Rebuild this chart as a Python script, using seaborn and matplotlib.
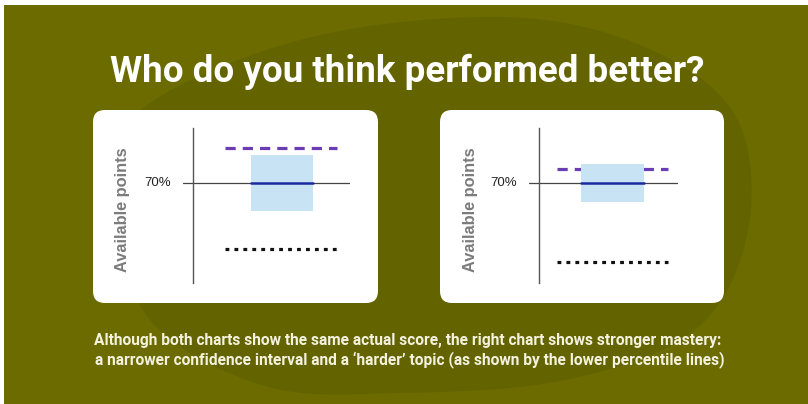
import numpy as np
import pandas as pd
import matplotlib
matplotlib.use("Agg")
import matplotlib.pyplot as plt
import seaborn as sns
from matplotlib.patches import FancyBboxPatch, Rectangle, Polygon

# ---------------- data ----------------
panels = ["left", "right"]
actual_score = [70, 70]          # % of available points
ci_low = [56, 60.5]
ci_high = [84, 79.5]
upper_percentile = [87.5, 77]
lower_percentile = [37, 30.5]
score_label = "70%"
y_label = "Available points"
title = "Who do you think performed better?"
caption = ["Although both charts show the same actual score, the right chart shows stronger mastery:",
           "a narrower confidence interval and a \u2018harder\u2019 topic (as shown by the lower percentile lines)"]

# ---------------- style ----------------
sns.set_theme(style="white")
plt.rcParams["font.family"] = ["Liberation Sans", "DejaVu Sans"]
W, H = 808, 404
fig = plt.figure(figsize=(W / 100, H / 100), dpi=100)
fig.patch.set_facecolor("white")

def fx(px):
    return px / W

def fy(py):
    return 1 - py / H

BG = "#6b6b00"
BLOB = "#636400"

# background axes in pixel coordinates
bg = fig.add_axes([0, 0, 1, 1], zorder=-5)
bg.set_xlim(0, W)
bg.set_ylim(H, 0)
bg.axis("off")
bg.add_patch(Rectangle((4, 5), W - 4, H - 5, facecolor=BG, edgecolor="none", zorder=0))

ctrl = np.array([(500, 17), (640, 45), (735, 115), (748, 230), (695, 330), (565, 380),
                 (400, 393), (265, 386), (150, 320), (118, 210), (135, 115), (300, 40)], float)
n = len(ctrl)
pts = []
for i in range(n):
    p0, p1, p2, p3 = ctrl[(i - 1) % n], ctrl[i], ctrl[(i + 1) % n], ctrl[(i + 2) % n]
    for t in np.linspace(0, 1, 20, endpoint=False):
        t2, t3 = t * t, t * t * t
        pts.append(0.5 * ((2 * p1) + (-p0 + p2) * t + (2 * p0 - 5 * p1 + 4 * p2 - p3) * t2
                          + (-p0 + 3 * p1 - 3 * p2 + p3) * t3))
bg.add_patch(Polygon(np.array(pts), closed=True, facecolor=BLOB, edgecolor="none", zorder=1))

cards = [(93, 110, 378, 303), (440, 110, 724, 303)]
for (x0, y0, x1, y1) in cards:
    r = 12
    bg.add_patch(FancyBboxPatch((x0 + r, y0 + r), x1 - x0 - 2 * r, y1 - y0 - 2 * r,
                                boxstyle=f"round,pad={r}", facecolor="white",
                                edgecolor="none", zorder=2))

# layout per panel (pixels)
layout = [
    dict(ax=(183, 128, 350, 283), vaxis=193, box=(251, 313), lines=(225, 337), lab_r=171, ylab_x=123),
    dict(ax=(529, 128, 678, 283), vaxis=539, box=(581, 644), lines=(557, 668), lab_r=517, ylab_x=470),
]
YLIM = (20, 97.5)
BOX_C = "#c8e4f4"
MED_C = "#1a2a9e"
PURPLE = "#6a3db5"

for i, L in enumerate(layout):
    x0, y0, x1, y1 = L["ax"]
    ax = fig.add_axes([fx(x0), fy(y1), fx(x1 - x0), (y1 - y0) / H], zorder=2)
    ax.set_facecolor("none")
    ax.set_xlim(x0, x1)
    ax.set_ylim(*YLIM)
    for s in ["top", "right", "bottom"]:
        ax.spines[s].set_visible(False)
    ax.spines["left"].set_position(("data", L["vaxis"]))
    ax.spines["left"].set_color("#555555")
    ax.spines["left"].set_linewidth(1.0)
    ax.set_xticks([])
    ax.set_yticks([])
    ax.axhline(actual_score[i], color="#444444", lw=0.9, zorder=2)

    bx0, bx1 = L["box"]
    ax.bar((bx0 + bx1) / 2, ci_high[i] - ci_low[i], bottom=ci_low[i], width=bx1 - bx0,
           color=BOX_C, edgecolor="none", zorder=3)
    lx0, lx1 = L["lines"]
    sns.lineplot(x=[lx0, lx1], y=[upper_percentile[i]] * 2, ax=ax, color=PURPLE, lw=2.3,
                 linestyle=(0, (3.2, 2.2)), zorder=2.5)
    sns.lineplot(x=[lx0, lx1], y=[lower_percentile[i]] * 2, ax=ax, color="#111111", lw=2.3,
                 linestyle=(0, (1.2, 1.6)), zorder=2.5)
    sns.lineplot(x=[bx0, bx1], y=[actual_score[i]] * 2, ax=ax, color=MED_C, lw=1.8, zorder=4)

    bg.text(L["lab_r"], 183, score_label, ha="right", va="center",
            fontsize=9.5, color="#222222", zorder=5)
    bg.text(L["ylab_x"], 210, y_label, rotation=90, ha="center", va="center",
            fontsize=11.8, fontweight="bold", color="#7b7b7b", zorder=5)

cond = ["Roboto", "DejaVu Sans"]
bg.text(407, 82, title, ha="center", va="baseline", fontsize=26.5,
        fontweight="bold", color="white", family=cond, zorder=5)
bg.text(408, 345, caption[0], ha="center", va="baseline", fontsize=11.2,
        fontweight="bold", color="#f4f2df", family=cond, zorder=5)
bg.text(410, 364, caption[1], ha="center", va="baseline", fontsize=11.2,
        fontweight="bold", color="#f4f2df", family=cond, zorder=5)

fig.savefig("out.png", dpi=100, facecolor=fig.get_facecolor())
